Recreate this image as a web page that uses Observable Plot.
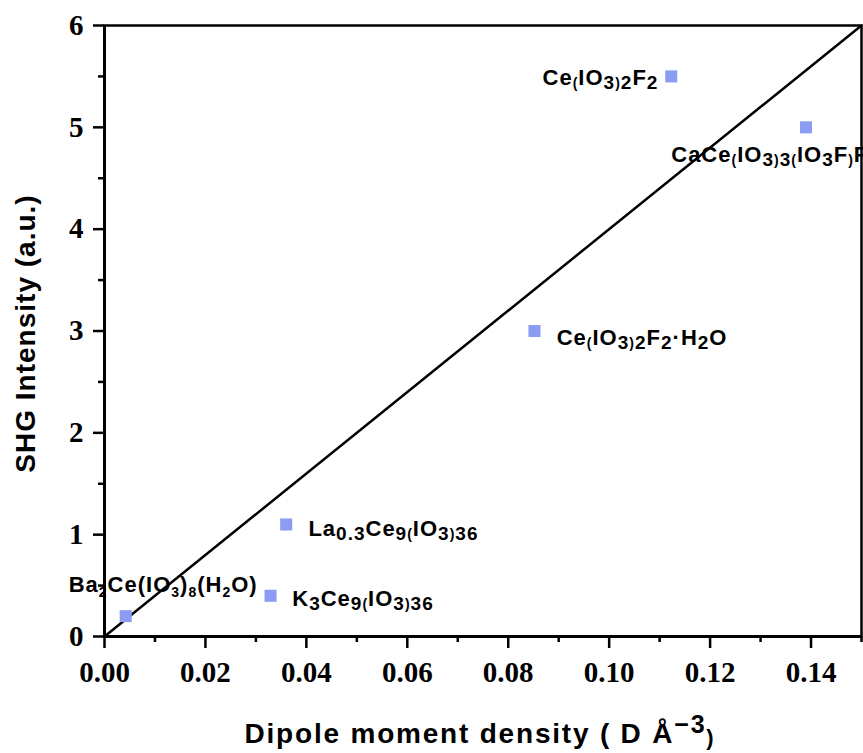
<!DOCTYPE html>
<html>
<head>
<meta charset="utf-8">
<script src="https://cdn.jsdelivr.net/npm/d3@7"></script>
<script src="https://cdn.jsdelivr.net/npm/@observablehq/plot@0.6"></script>
<style>
  html, body { margin: 0; padding: 0; background: #ffffff; }
  #chart { width: 863px; height: 753px; }
</style>
</head>
<body>
<div id="chart"></div>
<script>
// ---- data ----
const compounds = [
  "Ba_{2}Ce(IO_{3})_{8}(H_{2}O)",
  "K_{3}Ce_{9}~{(}IO_{3}~{)}_{36}",
  "La_{0.3}Ce_{9}~{(}IO_{3}~{)}_{36}",
  "Ce~{(}IO_{3}~{)}_{2}F_{2}·H_{2}O",
  "Ce~{(}IO_{3}~{)}_{2}F_{2}",
  "CaCe~{(}IO_{3}~{)}_{3}~{(}IO_{3}F~{)}F"
];
const dipoleDensity = [0.0042, 0.0329, 0.036, 0.0852, 0.1123, 0.139];
const shgIntensity  = [0.2, 0.4, 1.1, 3.0, 5.5, 5.0];
// label anchor positions (data units, text baseline start)
const labelX = [-0.0071, 0.0372, 0.0404, 0.0896, 0.0868, 0.1123];
const labelY = [0.44, 0.30, 0.99, 2.86, 5.42, 4.656];
// fitted line
const fitX = [0, 0.15];
const fitY = [0, 6];
// axes
const xTicks = [0, 0.02, 0.04, 0.06, 0.08, 0.10, 0.12, 0.14];
const xMinorTicks = [0.01, 0.03, 0.05, 0.07, 0.09, 0.11, 0.13, 0.15];
const yTicks = [0, 1, 2, 3, 4, 5, 6];
const yMinorTicks = [0.5, 1.5, 2.5, 3.5, 4.5, 5.5];
const xTitle = "Dipole moment density ( D Å^{−3}~{)}";
const yTitle = "SHG Intensity (a.u.)";

const points = compounds.map((c, i) => ({name: c, x: dipoleDensity[i], y: shgIntensity[i]}));
const labels = compounds.map((c, i) => ({name: c, x: labelX[i], y: labelY[i]}));
const fit = fitX.map((x, i) => ({x, y: fitY[i]}));

const sans = "Arial, 'Liberation Sans', sans-serif";
const serif = "'Times New Roman', 'Liberation Serif', serif";

const chart = Plot.plot({
  width: 863,
  height: 753,
  marginLeft: 104,
  marginRight: 2,
  marginTop: 25,
  marginBottom: 117,
  style: {background: "#ffffff", overflow: "visible"},
  x: {domain: [0, 0.15]},
  y: {domain: [0, 6]},
  marks: [
    Plot.frame({stroke: "#000", strokeWidth: 2.5}),
    Plot.axisX({ticks: xMinorTicks, tickSize: 6, strokeWidth: 2.5, text: null, label: null}),
    Plot.axisY({ticks: yMinorTicks, tickSize: 6, strokeWidth: 2.5, text: null, label: null}),
    Plot.axisX({ticks: xTicks, tickSize: 12, tickPadding: 13, strokeWidth: 2.5, tickFormat: d3.format(".2f"),
      fontSize: 29, fontFamily: serif, fontWeight: "bold", label: null, fill: "#000"}),
    Plot.axisY({ticks: yTicks, tickSize: 11, tickPadding: 10, strokeWidth: 2.5, tickFormat: d3.format("d"),
      fontSize: 29, fontFamily: serif, fontWeight: "bold", label: null, fill: "#000"}),
    Plot.ruleX([0], {stroke: "#000", strokeWidth: 3}),
    Plot.ruleY([0], {stroke: "#000", strokeWidth: 3}),
    Plot.line(fit, {x: "x", y: "y", stroke: "#000", strokeWidth: 2.5}),
    Plot.dot(points, {x: "x", y: "y", symbol: "square", r: 6.8, fill: "#8c9cf3", stroke: "none"}),
    Plot.text(labels, {x: "x", y: "y", text: "name", textAnchor: "start", lineAnchor: "bottom",
      fontSize: 22, fontFamily: sans, fontWeight: "bold", fill: "#000", className: "cmpd"}),
    Plot.text([yTitle], {text: d => d, frameAnchor: "left", rotate: -90, textAnchor: "middle", lineAnchor: "bottom",
      dx: -70, dy: 2.5, fontSize: 28, fontFamily: sans, fontWeight: "bold", fill: "#000", className: "ytitle"}),
    Plot.text([xTitle], {text: d => d, frameAnchor: "bottom", textAnchor: "middle", lineAnchor: "bottom",
      dy: 106, dx: -3, fontSize: 28, fontFamily: sans, fontWeight: "bold", fill: "#000", className: "xtitle"})
  ]
});

// rich text: _{..} subscript, ^{..} superscript, ~{..} tiny lowered
function richify(el, o) {
  const str = el.textContent;
  const sel = d3.select(el);
  sel.text(null);
  const re = /([_^~])\{([^}]*)\}|([^_^~]+)/g;
  let m, cur = 0;
  while ((m = re.exec(str))) {
    let shift = 0, size = null, t;
    if (m[1]) {
      t = m[2];
      if (m[1] === "_") { shift = o.subShift; size = o.subSize; }
      else if (m[1] === "^") { shift = -o.supShift; size = o.supSize; }
      else { shift = o.tinyShift; size = o.tinySize; }
    } else t = m[3];
    const ts = sel.append("tspan").text(t);
    if (shift - cur !== 0) ts.attr("dy", shift - cur);
    if (size) ts.attr("font-size", size);
    cur = shift;
  }
}

const svg = d3.select(chart);
svg.selectAll("g.cmpd text").each(function () {
  const s = this.textContent;
  if (s.startsWith("Ba")) {
    richify(this, {subShift: 5, subSize: 14, tinyShift: 3, tinySize: 14, supShift: 8, supSize: 16});
  } else {
    richify(this, {subShift: 4, subSize: 19, tinyShift: 3, tinySize: 14, supShift: 8, supSize: 16});
  }
}).attr("letter-spacing", "1px");
svg.selectAll("g.xtitle text").each(function () {
  richify(this, {subShift: 4, subSize: 22, tinyShift: 2, tinySize: 22, supShift: 10, supSize: 25});
}).attr("letter-spacing", "1.8px");
svg.selectAll("g.ytitle text").attr("letter-spacing", "1px");

document.getElementById("chart").appendChild(chart);
</script>
</body>
</html>
